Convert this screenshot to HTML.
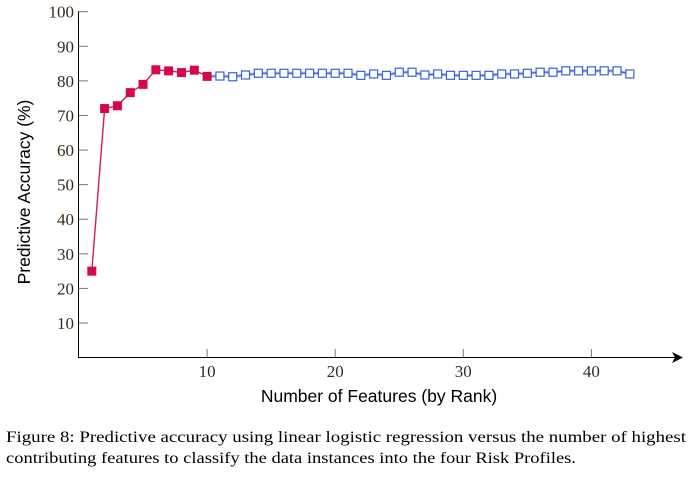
<!DOCTYPE html>
<html><head><meta charset="utf-8"><style>
body{margin:0;background:#fff;width:696px;height:472px;overflow:hidden}
svg text{font-family:"Liberation Serif",serif}
</style></head><body>
<svg id="chart" width="696" height="472" xmlns="http://www.w3.org/2000/svg">
<g id="axes"></g>
<g id="marks"></g>
<text transform="translate(30,192) rotate(-90)" text-anchor="middle" style="font-family:'Liberation Sans',sans-serif;font-size:17.5px">Predictive Accuracy (%)</text>
<text x="379" y="402" text-anchor="middle" style="font-family:'Liberation Sans',sans-serif;font-size:17.5px">Number of Features (by Rank)</text>
<text x="6" y="442" style="font-size:16px" textLength="680" lengthAdjust="spacingAndGlyphs">Figure 8: Predictive accuracy using linear logistic regression versus the number of highest</text>
<text x="6" y="463" style="font-size:16px" textLength="570" lengthAdjust="spacingAndGlyphs">contributing features to classify the data instances into the four Risk Profiles.</text>
</svg>
<script>
const redX=[1,2,3,4,5,6,7,8,9,10];
const redY=[25,72,72.8,76.6,79,83.2,82.9,82.4,83.1,81.3];
const blueX=[10,11,12,13,14,15,16,17,18,19,20,21,22,23,24,25,26,27,28,29,30,31,32,33,34,35,36,37,38,39,40,41,42,43];
const blueY=[81.3,81.4,81.2,81.7,82.2,82.2,82.2,82.2,82.2,82.2,82.2,82.2,81.6,82.0,81.6,82.5,82.5,81.7,82.0,81.6,81.6,81.6,81.6,82.0,82.0,82.2,82.5,82.5,82.9,82.9,82.9,82.9,82.9,82.0];
const yTicks=[10,20,30,40,50,60,70,80,90,100];
const xTicks=[10,20,30,40];
const NS="http://www.w3.org/2000/svg";
const sx=v=>79+v*12.81, sy=v=>357.6-v*3.459;
function mk(t,a,p){const e=document.createElementNS(NS,t);for(const k in a)e.setAttribute(k,a[k]);p.appendChild(e);return e;}
const ax=document.getElementById('axes'), mg=document.getElementById('marks');
let l=mk('line',{x1:78.5,y1:11,x2:78.5,y2:358,stroke:'#000','stroke-width':1},ax);


l=mk('line',{x1:78,y1:357.5,x2:680,y2:357.5,stroke:'#000','stroke-width':1},ax);


l=mk('path',{d:'M672,352 L683,357.5 L672,363 L675,357.5 Z',fill:'#000'},ax);


yTicks.forEach(v=>{const t=mk('line',{x1:78.5,x2:88,y1:sy(v),y2:sy(v),stroke:'#777'},ax);


const tx=mk('text',{x:74,y:sy(v)+6,'text-anchor':'end','font-size':'17px',fill:'#3a2a1a'},ax);tx.textContent=v;

});
xTicks.forEach(v=>{const t=mk('line',{x1:sx(v),x2:sx(v),y1:357.5,y2:349,stroke:'#777'},ax);


const tx=mk('text',{x:sx(v),y:377,'text-anchor':'middle','font-size':'17px',fill:'#2a2a3a'},ax);tx.textContent=v;

});
const bp=blueX.map((x,i)=>sx(x)+','+sy(blueY[i])).join(' ');
let pl=mk('polyline',{points:bp,fill:'none',stroke:'#a9b8f0','stroke-width':3},mg);


pl=mk('polyline',{points:bp,fill:'none',stroke:'#3a5fe0','stroke-width':1},mg);


blueX.forEach((x,i)=>{if(i==0)return;const r=mk('rect',{x:sx(x)-4,y:sy(blueY[i])-4,width:8,height:8,fill:'#fff',stroke:'#3a5fe0','stroke-width':1.2},mg);

});
pl=mk('polyline',{points:redX.map((x,i)=>sx(x)+','+sy(redY[i])).join(' '),fill:'none',stroke:'#d81b55','stroke-width':1.4},mg);


redX.forEach((x,i)=>{const r=mk('rect',{x:sx(x)-4.5,y:sy(redY[i])-4.5,width:9,height:9,fill:'#d6064a'},mg);

});
</script>
</body></html>
